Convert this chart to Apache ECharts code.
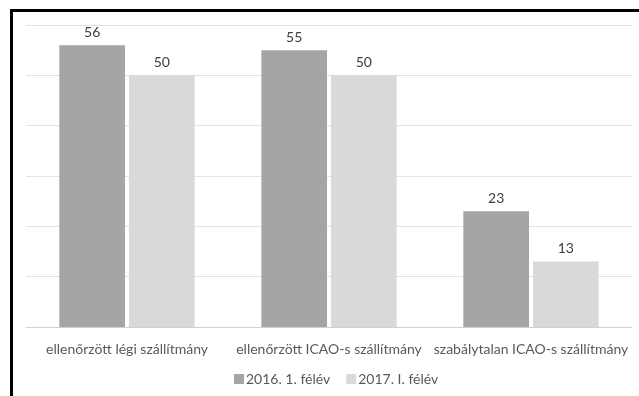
<!DOCTYPE html>
<html>
<head>
<meta charset="utf-8">
<script src="https://cdn.jsdelivr.net/npm/echarts@6/dist/echarts.min.js"></script>
<style>
  html, body { margin: 0; padding: 0; background: #fff; overflow: hidden; }
  #chart { width: 639px; height: 396px; position: absolute; left: 0; top: 0; }
  #frame { position: absolute; left: 10px; top: 9px; width: 700px; height: 500px;
           border-left: 3px solid #000; border-top: 3px solid #000; pointer-events: none; }
</style>
</head>
<body>
<div id="chart"></div>
<div id="frame"></div>
<script>
const categories = ['ellenőrzött légi szállítmány', 'ellenőrzött ICAO-s szállítmány', 'szabálytalan ICAO-s szállítmány'];
const seriesNames = ['2016. 1. félév', '2017. I. félév'];
const values2016 = [56, 55, 23];
const values2017 = [50, 50, 13];

const font = 'Lato, "Open Sans", sans-serif';

const chart = echarts.init(document.getElementById('chart'), null, { renderer: 'canvas' });
chart.setOption({
  animation: false,
  backgroundColor: '#fff',
  textStyle: { fontFamily: font },
  grid: { left: 26, right: 7, top: 25, bottom: 69, containLabel: false },
  legend: {
    bottom: 5,
    left: 229,
    itemWidth: 10,
    itemHeight: 10,
    itemGap: 16,
    icon: 'rect',
    data: seriesNames,
    textStyle: { color: '#595959', fontSize: 14, fontFamily: font, padding: [0, 0, 0, -3] }
  },
  xAxis: {
    type: 'category',
    data: categories,
    axisTick: { show: false },
    axisLine: { lineStyle: { color: '#d0d0d0', width: 1 } },
    axisLabel: { color: '#595959', fontSize: 14, fontFamily: font, margin: 15, interval: 0 }
  },
  yAxis: {
    type: 'value',
    min: 0, max: 60, interval: 10,
    axisLabel: { show: false },
    axisLine: { show: false },
    axisTick: { show: false },
    splitLine: { lineStyle: { color: '#e3e3e3', width: 1 } }
  },
  series: [
    {
      name: seriesNames[0], type: 'bar', data: values2016,
      barGap: '6%', barCategoryGap: '33%',
      itemStyle: { color: '#a5a5a5' },
      label: { show: true, position: 'top', distance: 6, color: '#404040', fontSize: 14, fontFamily: font }
    },
    {
      name: seriesNames[1], type: 'bar', data: values2017,
      itemStyle: { color: '#d9d9d9' },
      label: { show: true, position: 'top', distance: 6, color: '#404040', fontSize: 14, fontFamily: font }
    }
  ]
});
</script>
</body>
</html>
